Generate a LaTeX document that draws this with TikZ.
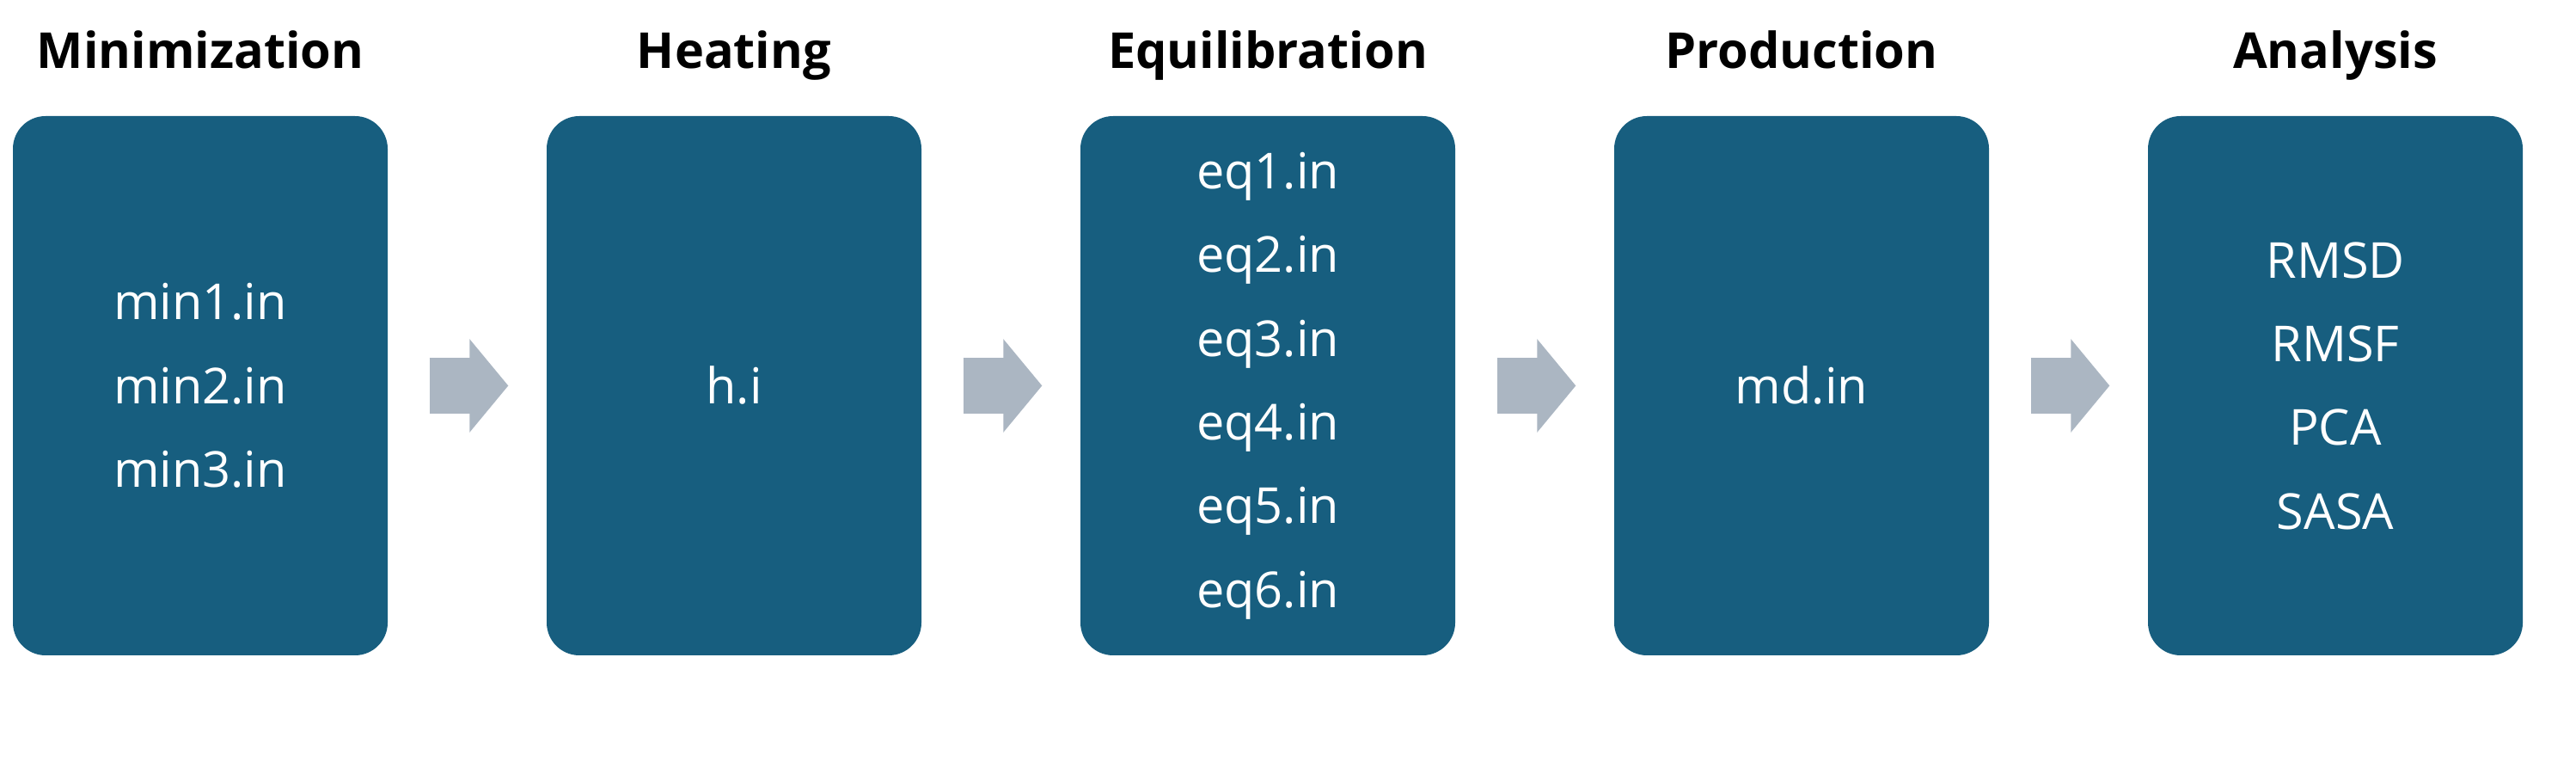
\documentclass[tikz,border=0pt]{standalone}
\usepackage{fontspec}
\setmainfont{Open Sans}
\usetikzlibrary{positioning, arrows.meta}
\definecolor{stageblue}{RGB}{23,94,127}
\definecolor{flowgray}{RGB}{171,182,194}

\begin{document}
\begin{tikzpicture}[
        stage/.style={rectangle, rounded corners=0.38cm, fill=stageblue, text=white, minimum width=4.36cm, minimum height=6.27cm, align=center, inner sep=0pt, font=\fontsize{16.4pt}{27.7pt}\selectfont},
        heading/.style={font=\fontsize{16.4pt}{20pt}\selectfont\bfseries, inner sep=0pt, text depth=0pt},
        flow/.style={draw=flowgray, line width=0.65cm, -{Triangle[length=0.45cm, width=1.08cm, line width=1pt]}, shorten <=0.48cm, shorten >=0.44cm}
    ]
    \useasboundingbox (0,0) rectangle (29.97,-8.93);

    % Stages of the simulation
    \node[stage] (B1) at (2.33,-4.485)  {min1.in\\min2.in\\min3.in};
    \node[stage] (B2) at (8.54,-4.485)  {h.i};
    \node[stage] (B3) at (14.75,-4.485) {eq1.in\\eq2.in\\eq3.in\\eq4.in\\eq5.in\\eq6.in};
    \node[stage] (B4) at (20.96,-4.485) {md.in};
    \node[stage] (B5) at (27.17,-4.485) {RMSD\\RMSF\\PCA\\SASA};

    % Headings
    \node[heading, above=0.54cm of B1] (T1) {Minimization};
    \node[heading, above=0.54cm of B2] (T2) {Heating};
    \node[heading, above=0.54cm of B3] (T3) {Equilibration};
    \node[heading, above=0.54cm of B4] (T4) {Production};
    \node[heading, above=0.54cm of B5] (T5) {Analysis};

    % Arrows between stages
    \draw[flow] (B1.east) -- (B2.west);
    \draw[flow] (B2.east) -- (B3.west);
    \draw[flow] (B3.east) -- (B4.west);
    \draw[flow] (B4.east) -- (B5.west);

\end{tikzpicture}
\end{document}
